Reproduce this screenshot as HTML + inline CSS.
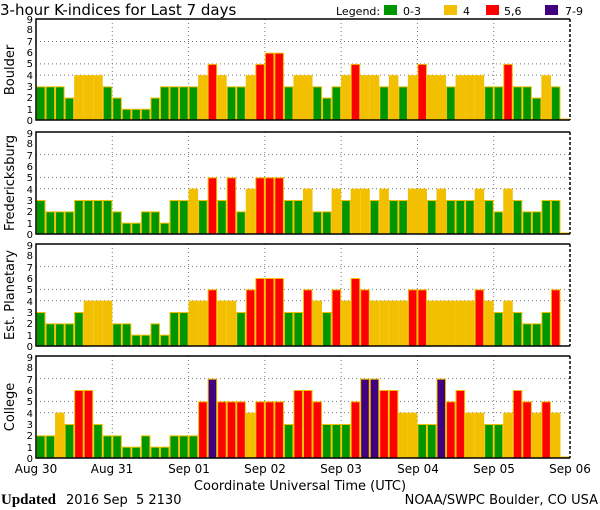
<!DOCTYPE html>
<html><head><meta charset="utf-8"><style>
html,body{margin:0;padding:0;background:#fff;width:600px;height:510px;overflow:hidden}
svg{display:block;font-family:"DejaVu Sans","Liberation Sans",sans-serif}
.y{font-size:10px;text-anchor:end}
.t{font-size:12px;text-anchor:middle}
</style></head><body>
<svg id="s" width="600" height="510" viewBox="0 0 600 510" xmlns="http://www.w3.org/2000/svg">
<text x="0" y="15" font-size="15">3-hour K-indices for Last 7 days</text>
<text x="336" y="15" font-size="11">Legend:</text>
<rect x="384" y="5" width="13" height="10" fill="#009600"/><text x="403" y="15" font-size="11">0-3</text>
<rect x="444" y="5" width="13" height="10" fill="#f2c000"/><text x="463" y="15" font-size="11">4</text>
<rect x="486" y="5" width="13" height="10" fill="#ff0000"/><text x="504" y="15" font-size="11">5,6</text>
<rect x="545" y="5" width="13" height="10" fill="#400080"/><text x="565" y="15" font-size="11">7-9</text>
<g id="bars"></g>
<g class="y">
<text x="33" y="124">0</text><text x="33" y="113">1</text><text x="33" y="101">2</text><text x="33" y="90">3</text><text x="33" y="79">4</text><text x="33" y="67">5</text><text x="33" y="56">6</text><text x="33" y="45">7</text><text x="33" y="33">8</text><text x="33" y="23">9</text>
<text x="33" y="238">0</text><text x="33" y="227">1</text><text x="33" y="215">2</text><text x="33" y="204">3</text><text x="33" y="193">4</text><text x="33" y="181">5</text><text x="33" y="170">6</text><text x="33" y="159">7</text><text x="33" y="147">8</text><text x="33" y="137">9</text>
<text x="33" y="350">0</text><text x="33" y="339">1</text><text x="33" y="327">2</text><text x="33" y="316">3</text><text x="33" y="305">4</text><text x="33" y="293">5</text><text x="33" y="282">6</text><text x="33" y="271">7</text><text x="33" y="259">8</text><text x="33" y="249">9</text>
<text x="33" y="462">0</text><text x="33" y="451">1</text><text x="33" y="439">2</text><text x="33" y="428">3</text><text x="33" y="417">4</text><text x="33" y="405">5</text><text x="33" y="394">6</text><text x="33" y="383">7</text><text x="33" y="371">8</text><text x="33" y="361">9</text>
</g>
<g font-size="13" text-anchor="middle">
<text transform="translate(14,70) rotate(-90)">Boulder</text>
<text transform="translate(14,183) rotate(-90)">Fredericksburg</text>
<text transform="translate(14,295) rotate(-90)">Est. Planetary</text>
<text transform="translate(14,407) rotate(-90)">College</text>
</g>
<g class="t">
<text x="36" y="473">Aug 30</text><text x="112" y="473">Aug 31</text><text x="189" y="473">Sep 01</text><text x="265" y="473">Sep 02</text><text x="341" y="473">Sep 03</text><text x="418" y="473">Sep 04</text><text x="494" y="473">Sep 05</text><text x="570" y="473">Sep 06</text>
</g>
<text x="300" y="490" font-size="13" text-anchor="middle">Coordinate Universal Time (UTC)</text>
<text x="1" y="504" font-size="15" font-family="Liberation Serif,serif" font-weight="bold">Updated</text>
<text x="66" y="504" font-size="13" xml:space="preserve" style="white-space:pre">2016 Sep  5 2130</text>
<text x="598" y="504" font-size="13" text-anchor="end">NOAA/SWPC Boulder, CO USA</text>
</svg>
<script>
var D=[
[3,3,3,2,4,4,4,3, 2,1,1,1,2,3,3,3, 3,4,5,4,3,3,4,5, 6,6,3,4,4,3,2,3, 4,5,4,4,3,4,3,4, 5,4,4,3,4,4,4,3, 3,5,3,3,2,4,3,0],
[3,2,2,2,3,3,3,3, 2,1,1,2,2,1,3,3, 4,3,5,3,5,2,4,5, 5,5,3,3,4,2,2,4, 3,4,4,3,4,3,3,4, 4,3,4,3,3,3,4,3, 2,4,3,2,2,3,3,0],
[3,2,2,2,3,4,4,4, 2,2,1,1,2,1,3,3, 4,4,5,4,4,3,5,6, 6,6,3,3,5,4,3,5, 4,6,5,4,4,4,4,5, 5,4,4,4,4,4,5,4, 3,4,3,2,2,3,5,-1],
[2,2,4,3,6,6,3,2, 2,1,1,2,1,1,2,2, 2,5,7,5,5,5,4,5, 5,5,3,6,6,5,3,3, 3,5,7,7,6,6,4,4, 3,3,7,5,6,4,4,3, 3,4,6,5,4,5,4,0]];
var T=[19,132,244,356],B=[120,234,346,458];
var x0=36,x1=570,dw=(x1-x0)/7,bw=dw/8,h='';
function col(v){return v<=3?'#009600':v==4?'#f2c000':v<=6?'#ff0000':'#400080';}
for(var p=0;p<4;p++){
 var t=T[p],b=B[p],u=(b-t)/9;
 [4,5,7].forEach(function(v){var y=b-v*u;h+='<line x1="'+x0+'" x2="'+x1+'" y1="'+y+'" y2="'+y+'" stroke="#777" stroke-dasharray="1,3"/>';});
 for(var d=1;d<7;d++){var x=x0+d*dw;h+='<line x1="'+x+'" x2="'+x+'" y1="'+t+'" y2="'+b+'" stroke="#777" stroke-dasharray="1,3"/>';}
 for(var i=0;i<56;i++){var v=D[p][i];if(v<0)continue;var hh=v==0?1.5:v*u;var x=x0+i*bw;
  h+='<rect x="'+x+'" y="'+(b-hh)+'" width="'+bw+'" height="'+hh+'" fill="#f2c000"/>';
  if(v>0)h+='<rect x="'+(x+1)+'" y="'+(b-hh+1)+'" width="'+(bw-2)+'" height="'+(hh-1)+'" fill="'+col(v)+'"/>';}
 h+='<polyline points="'+x1+','+t+' '+x0+','+t+' '+x0+','+b+' '+x1+','+b+'" fill="none" stroke="#000" stroke-width="1.5"/>';
 h+='<line x1="'+x1+'" x2="'+x1+'" y1="'+t+'" y2="'+b+'" stroke="#000" stroke-width="1.5" stroke-dasharray="3,2"/>';
}
document.getElementById('bars').innerHTML=h;
</script>
</body></html>
